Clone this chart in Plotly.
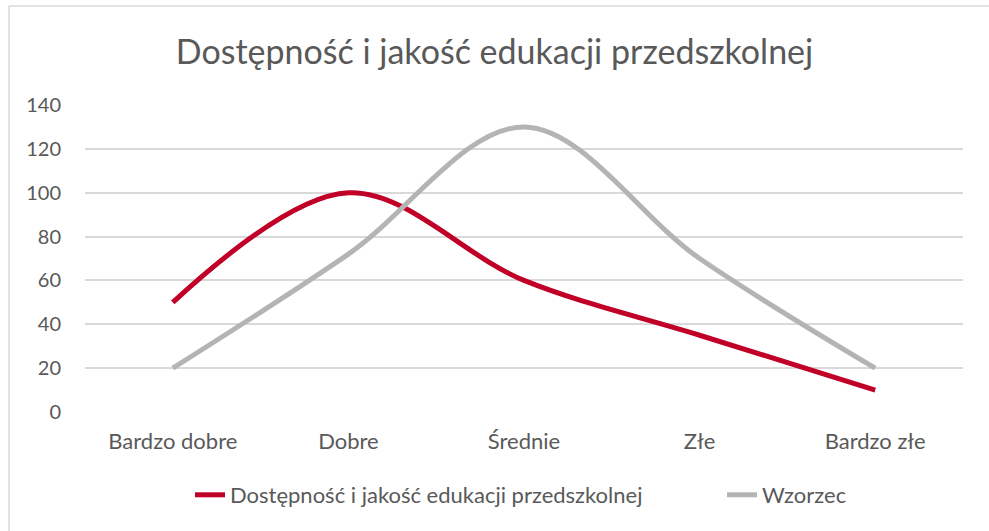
import plotly.graph_objects as go

categories = ["Bardzo dobre", "Dobre", "Średnie", "Złe", "Bardzo złe"]
series_main = [50, 100, 60, 35, 10]
series_ref = [20, 72, 130, 70, 20]
name_main = "Dostępność i jakość edukacji przedszkolnej"
name_ref = "Wzorzec"
title_text = "Dostępność i jakość edukacji przedszkolnej"
y_ticks = [0, 20, 40, 60, 80, 100, 120, 140]

FONT = "Lato"
TXT = "#595959"

fig = go.Figure()
fig.add_trace(go.Scatter(
    x=categories, y=series_main, name=name_main, mode="lines", legend="legend",
    line=dict(color="#C00027", width=5, shape="spline", smoothing=1.0),
))
fig.add_trace(go.Scatter(
    x=categories, y=series_ref, name=name_ref, mode="lines", legend="legend2",
    line=dict(color="#B4B4B4", width=5, shape="spline", smoothing=1.0),
))

leg_common = dict(orientation="h", xanchor="left", y=(412 - 495) / 307, yanchor="middle",
                  font=dict(family=FONT, size=22, color=TXT), bgcolor="rgba(0,0,0,0)")

bx0, bx1 = (9 - 85) / 878, (1010 - 85) / 878
by_top, by_bot = (412 - 6) / 307, (412 - 550) / 307
border = dict(color="#D9D9D9", width=1.5)

fig.update_layout(
    width=989, height=531,
    margin=dict(l=85, r=26, t=105, b=119, autoexpand=False),
    paper_bgcolor="white", plot_bgcolor="white",
    font=dict(family=FONT, color=TXT, size=20),
    title=dict(text=title_text, x=0.5, xanchor="center", y=1 - 52 / 531, yanchor="middle",
               font=dict(family=FONT, size=34, color=TXT)),
    showlegend=True,
    legend=dict(x=(190 - 85) / 878, **leg_common),
    legend2=dict(x=(722 - 85) / 878, **leg_common),
    xaxis=dict(type="category", range=[-0.5, 4.5], showgrid=False, zeroline=False,
               showline=False, ticks="", ticklabelstandoff=14,
               tickfont=dict(family=FONT, size=22, color=TXT)),
    yaxis=dict(range=[0, 140], tickvals=y_ticks, showgrid=True, gridcolor="#D9D9D9",
               gridwidth=1.5, zeroline=False, showline=False, ticks="",
               ticklabelstandoff=23,
               tickfont=dict(family=FONT, size=20, color=TXT)),
    shapes=[
        dict(type="line", xref="paper", yref="paper", x0=bx0, x1=bx1, y0=by_top, y1=by_top,
             line=border, layer="below"),
        dict(type="line", xref="paper", yref="paper", x0=bx0, x1=bx0, y0=by_top, y1=by_bot,
             line=border, layer="below"),
    ],
)

fig.write_html("out.html", config={"displayModeBar": False},
               post_script="document.body.style.margin='0';document.body.style.overflow='hidden';")
